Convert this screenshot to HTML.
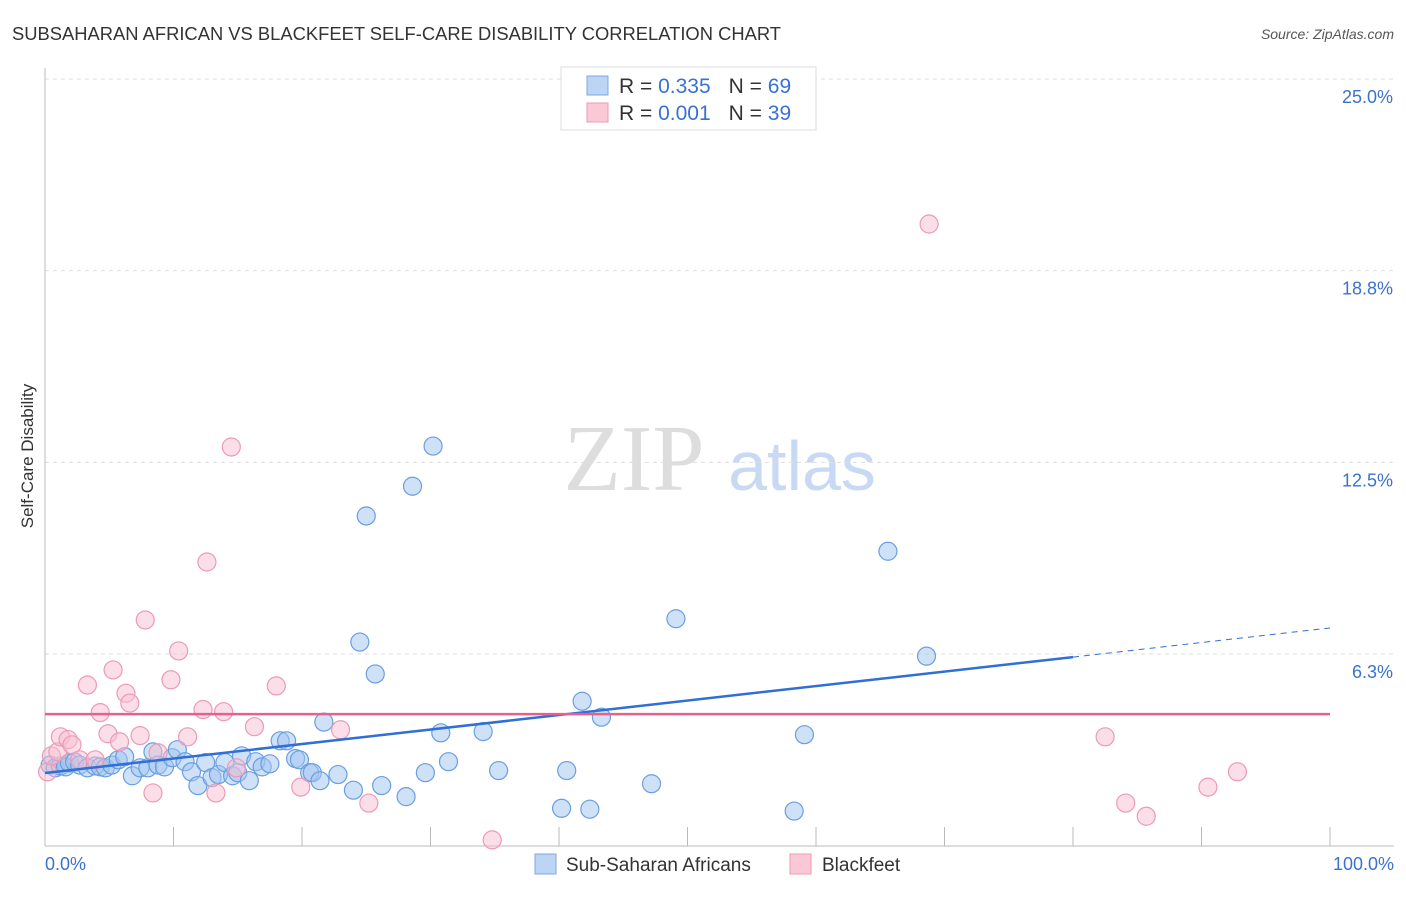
<!DOCTYPE html>
<html><head><meta charset="utf-8"><style>
body{margin:0;background:#fff;font-family:"Liberation Sans",sans-serif}
</style></head><body>
<svg id="chart" width="1406" height="892" xmlns="http://www.w3.org/2000/svg">
<text x="12" y="40" font-size="18" fill="#333" textLength="769" lengthAdjust="spacingAndGlyphs">SUBSAHARAN AFRICAN VS BLACKFEET SELF-CARE DISABILITY CORRELATION CHART</text>
<text x="1394" y="39" font-size="14" fill="#555" font-style="italic" text-anchor="end">Source: ZipAtlas.com</text>
<text x="33" y="456" font-size="17" fill="#333" text-anchor="middle" transform="rotate(-90 33 456)">Self-Care Disability</text>
<g><text x="634" y="490" font-size="94" fill="#ddd" font-family="Liberation Serif,serif" text-anchor="middle">ZIP</text><text x="802" y="490" font-size="70" fill="#c8daf3" text-anchor="middle">atlas</text></g>
<g id="grid"></g><g id="axes"></g><g id="pts"></g><g id="lines"></g>
<g>
<rect x="561" y="67" width="255" height="63" fill="#fff" stroke="#ddd"/>
<rect x="587" y="76" width="21" height="19" fill="#bcd5f5" stroke="#7fa8e0"/>
<rect x="587" y="103" width="21" height="19" fill="#fbc8d8" stroke="#ec9ab5"/>
<text x="619" y="93" font-size="21" fill="#333">R = <tspan fill="#3a72d0">0.335</tspan><tspan dx="18">N = </tspan><tspan fill="#3a72d0">69</tspan></text>
<text x="619" y="120" font-size="21" fill="#333">R = <tspan fill="#3a72d0">0.001</tspan><tspan dx="18">N = </tspan><tspan fill="#3a72d0">39</tspan></text>
</g>
<g>
<rect x="535" y="854" width="21" height="20" fill="#bcd5f5" stroke="#7fa8e0"/>
<text x="566" y="871" font-size="19" fill="#333">Sub-Saharan Africans</text>
<rect x="790" y="854" width="21" height="20" fill="#fbc8d8" stroke="#ec9ab5"/>
<text x="822" y="871" font-size="19" fill="#333">Blackfeet</text>
</g>
</svg>
<script>
const yTicks=[6.25,12.5,18.75,25];
const yTickLabels=["6.3%","12.5%","18.8%","25.0%"];
const xTickLabels=["0.0%","100.0%"];
const blueX=[0.4,0.8,1.2,1.6,1.9,2.3,2.7,3.3,3.9,4.3,4.7,5.2,5.7,6.2,6.8,7.4,8.0,8.4,8.8,9.3,9.9,10.3,10.9,11.4,11.9,12.5,13.0,13.5,14.0,14.6,15.0,15.3,15.9,16.4,16.9,17.5,18.3,18.8,19.5,19.8,20.6,20.8,21.4,21.7,22.8,24.0,24.5,25.0,25.7,26.2,28.1,28.6,29.6,30.2,30.8,31.4,34.1,35.3,40.2,40.6,41.8,42.4,43.3,47.2,49.1,58.3,59.1,65.6,68.6];
const blueY=[2.63,2.54,2.6,2.57,2.7,2.73,2.63,2.54,2.6,2.57,2.54,2.63,2.8,2.9,2.28,2.54,2.54,3.06,2.63,2.57,2.87,3.13,2.74,2.41,1.96,2.71,2.22,2.32,2.71,2.28,2.38,2.93,2.12,2.74,2.57,2.67,3.42,3.42,2.84,2.8,2.38,2.38,2.12,4.03,2.32,1.81,6.64,10.75,5.6,1.96,1.6,11.72,2.38,13.03,3.68,2.74,3.72,2.45,1.22,2.45,4.71,1.19,4.19,2.02,7.4,1.13,3.62,9.6,6.18];
const pinkX=[0.2,0.5,1.0,1.2,1.8,2.1,2.7,3.3,3.9,4.3,4.9,5.3,5.8,6.3,6.6,7.4,7.8,8.4,8.8,9.8,10.4,11.1,12.3,12.6,13.3,13.9,14.5,14.9,16.3,18.0,19.9,23.0,25.2,34.8,68.8,82.5,84.1,85.7,90.5,92.8];
const pinkY=[2.41,2.93,3.06,3.55,3.46,3.29,2.8,5.24,2.8,4.34,3.65,5.73,3.39,4.97,4.65,3.59,7.36,1.72,3.03,5.41,6.35,3.55,4.44,9.25,1.72,4.37,13.0,2.54,3.88,5.21,1.91,3.78,1.39,0.19,20.27,3.55,1.39,0.96,1.91,2.41];
const blueFit=[2.37,6.15,7.1];const blueFitX=[0,80,100];
const pinkFit=4.29;
const X=v=>45+v*12.85, Y=v=>845.7-v*30.67;
const NS="http://www.w3.org/2000/svg";
function mk(p,t,a){const e=document.createElementNS(NS,t);for(const k in a)e.setAttribute(k,a[k]);document.getElementById(p).appendChild(e);return e;}
yTicks.forEach((t,i)=>{
 const l=mk('grid','line',{x1:45,x2:1394,y1:Y(t),y2:Y(t),stroke:'#ddd','stroke-dasharray':'4 4'});
 
 
 const tx=mk('grid','text',{x:1393,y:Y(t)+24,'font-size':18,fill:'#3a72d0','text-anchor':'end'});
 tx.textContent=yTickLabels[i];
 
 
});
mk('axes','line',{x1:45,x2:45,y1:68,y2:846,stroke:'#bbb'});
mk('axes','line',{x1:45,x2:1394,y1:846,y2:846,stroke:'#bbb'});
for(let i=1;i<=10;i++){const t=mk('axes','line',{x1:X(i*10),x2:X(i*10),y1:827,y2:846,stroke:'#bbb'});
 
 }
[0,100].forEach((v,i)=>{const t=mk('axes','text',{x:i?1394:45,y:870,'font-size':18,fill:'#3a72d0','text-anchor':i?'end':'start'});t.textContent=xTickLabels[i];
 
 });
blueX.forEach((v,i)=>{const c=mk('pts','circle',{cx:X(v),cy:Y(blueY[i]),r:9,fill:'rgba(160,195,240,0.5)',stroke:'#6a9ee0','stroke-width':1.2});
 
 });
pinkX.forEach((v,i)=>{const c=mk('pts','circle',{cx:X(v),cy:Y(pinkY[i]),r:9,fill:'rgba(248,190,210,0.5)',stroke:'#ec9ab5','stroke-width':1.2});
 
 });
const bl=mk('lines','line',{x1:X(blueFitX[0]),y1:Y(blueFit[0]),x2:X(blueFitX[1]),y2:Y(blueFit[1]),stroke:'#2f6fd6','stroke-width':2.5});


const bd=mk('lines','line',{x1:X(blueFitX[1]),y1:Y(blueFit[1]),x2:X(blueFitX[2]),y2:Y(blueFit[2]),stroke:'#2f6fd6','stroke-width':1,'stroke-dasharray':'6 5'});


const pl=mk('lines','line',{x1:X(0),y1:Y(pinkFit),x2:X(100),y2:Y(pinkFit),stroke:'#e8608a','stroke-width':2.5});


</script>
</body></html>
